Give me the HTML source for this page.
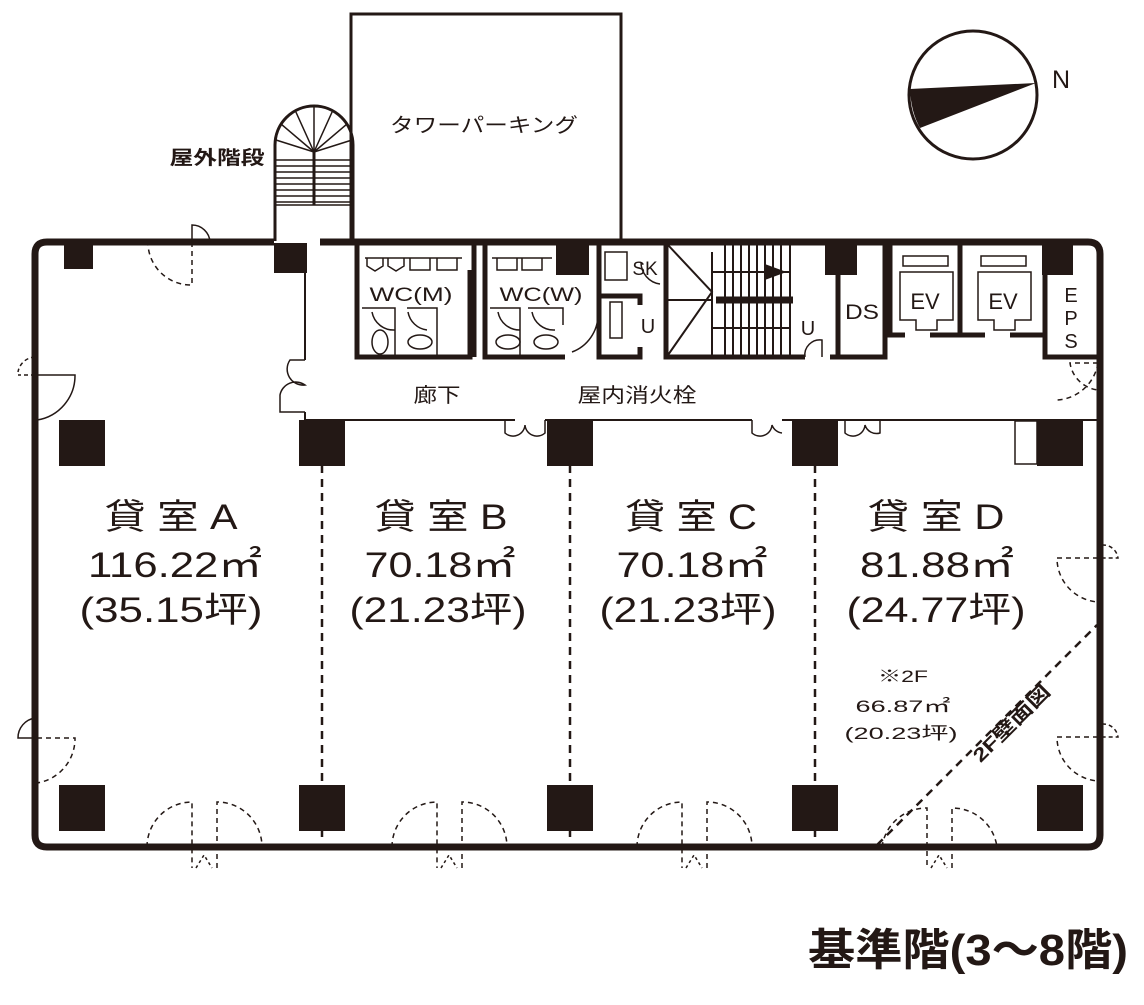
<!DOCTYPE html>
<html><head><meta charset="utf-8"><style>
html,body{margin:0;padding:0;background:#fff}
svg{display:block}
text{font-family:"Liberation Sans","Noto Sans CJK JP",sans-serif;fill:#231815}
</style></head><body>
<svg width="1144" height="1005" viewBox="0 0 1144 1005" xmlns="http://www.w3.org/2000/svg">
<g stroke="#231815" fill="none">
<circle cx="973" cy="95" r="64" stroke-width="3"/>
<path d="M1036,83 L910,89 Q911,112 920,128 Z" fill="#231815" stroke="none"/>
<rect x="351" y="14" width="270" height="228" stroke-width="3"/>
<path d="M275,241 L275,145 A39,39 0 0 1 353,145 L353,241" stroke-width="3"/>
<g stroke-width="1.5">
<line x1="314" y1="152" x2="314" y2="106"/>
<line x1="314" y1="152" x2="295" y2="110"/>
<line x1="314" y1="152" x2="333" y2="110"/>
<line x1="314" y1="152" x2="281" y2="124"/>
<line x1="314" y1="152" x2="347" y2="124"/>
<line x1="314" y1="152" x2="276" y2="140"/>
<line x1="314" y1="152" x2="352" y2="140"/>
<line x1="276" y1="160" x2="352" y2="160"/>
<line x1="276" y1="166" x2="352" y2="166"/>
<line x1="276" y1="172" x2="352" y2="172"/>
<line x1="276" y1="178" x2="352" y2="178"/>
<line x1="276" y1="184" x2="352" y2="184"/>
<line x1="276" y1="190" x2="352" y2="190"/>
<line x1="276" y1="196" x2="352" y2="196"/>
<line x1="276" y1="202" x2="352" y2="202"/>
<line x1="276" y1="205" x2="352" y2="205"/>
</g>
<line x1="314" y1="152" x2="314" y2="205" stroke-width="3"/>
<path d="M320,242 L1088,242 Q1100,242 1100,254 L1100,835 Q1100,847 1088,847 L47,847 Q35,847 35,835 L35,254 Q35,242 47,242 L274,242" stroke-width="7"/>
<path d="M192,242 L192,225 A18,18 0 0 1 210,242" stroke-width="1.5"/>
<path d="M192,242 L192,285 A43,43 0 0 1 148,245" stroke-width="1.5" stroke-dasharray="5,4"/>
<path d="M37,375 L75,375 A45,45 0 0 1 37,420" stroke-width="1.5"/>
<path d="M35,375 L18,375 M35,357 A18,18 0 0 0 18,372" stroke-width="1.5" stroke-dasharray="4,3"/>
<path d="M37,738 L75,738 A45,45 0 0 1 37,783" stroke-width="1.5" stroke-dasharray="5,4"/>
<path d="M35,718 A20,20 0 0 0 18,738 L35,738" stroke-width="1.5"/>
<path d="M1098,558 L1057,558 A44,44 0 0 0 1098,602" stroke-width="1.5" stroke-dasharray="5,4"/>
<path d="M1102,545 A15,15 0 0 1 1118,558 L1102,558" stroke-width="1.5" stroke-dasharray="4,3"/>
<path d="M1098,737 L1057,737 A44,44 0 0 0 1098,781" stroke-width="1.5" stroke-dasharray="5,4"/>
<path d="M1102,724 A15,15 0 0 1 1118,737 L1102,737" stroke-width="1.5" stroke-dasharray="4,3"/>
<path d="M1098,363 A44,44 0 0 1 1057,400 M1098,363 L1070,363 A32,32 0 0 0 1098,390" stroke-width="1.5" stroke-dasharray="5,4"/>
<g stroke-width="1.5" stroke-dasharray="5,4">
<path d="M147,847 A45,45 0 0 1 192,802 L192,868 M217,868 L217,802 A45,45 0 0 1 262,847"/>
<path d="M392,847 A45,45 0 0 1 437,802 L437,868 M462,868 L462,802 A45,45 0 0 1 507,847"/>
<path d="M637,847 A45,45 0 0 1 682,802 L682,868 M707,868 L707,802 A45,45 0 0 1 752,847"/>
<path d="M882,847 A45,45 0 0 1 927,808 L927,868 M952,868 L952,808 A45,45 0 0 1 997,847"/>
</g>
<path d="M196,868 L204,855 L212,868 M441,868 L449,855 L457,868 M686,868 L694,855 L702,868 M931,868 L939,855 L947,868" stroke-width="1.5" stroke-dasharray="3,3"/>
<path d="M305,272 L305,360 M305,412 L305,420 L515,420 M545,420 L752,420 M782,420 L1098,420" stroke-width="2"/>
<path d="M305,360 L290,360 A16,16 0 0 0 305,385 A16,16 0 0 0 280,395 L280,412 L305,412" stroke-width="1.5"/>
<path d="M505,420 L505,433 A12,12 0 0 0 525,425 A12,12 0 0 0 545,433 L545,420 M752,420 L752,433 A12,12 0 0 0 772,425 A12,12 0 0 0 782,433 M845,420 L845,433 A12,12 0 0 0 865,425 A12,12 0 0 0 880,433 L880,420" stroke-width="1.5"/>
<g stroke-width="2.5" stroke-dasharray="8,6">
<line x1="322" y1="465" x2="322" y2="843"/>
<line x1="570" y1="465" x2="570" y2="843"/>
<line x1="815" y1="465" x2="815" y2="843"/>
<line x1="877" y1="845" x2="1097" y2="625"/>
</g>
<g stroke-width="5">
<path d="M357,242 L357,357 L470,357 L470,270"/>
<path d="M474,357 L474,242 M485,242 L485,357 L565,357"/>
<path d="M599,242 L599,357 L640,357 L640,347"/>
<path d="M599,296 L640,296 L640,305"/>
<path d="M666,242 L666,357 L805,357 M830,357 L885,357 L885,242"/>
<path d="M838,242 L838,357"/>
<path d="M890,242 L890,335 L905,335 M930,335 L960,335 L960,242 M960,335 L985,335 M1010,335 L1045,335"/>
<path d="M1045,242 L1045,357 L1098,357"/>
</g>
<path d="M822,357 L822,340 A15,15 0 0 0 805,357" stroke-width="1.5"/>
<path d="M598,315 A40,40 0 0 1 572,352" stroke-width="1.5"/>
<path d="M641,262 A22,22 0 0 0 660,284" stroke-width="1.5"/>
<g stroke-width="1.5">
<path d="M367,258 L367,266 L375,271 L383,266 L383,258 M388,258 L388,266 L396,271 L404,266 L404,258 M410,258 L410,270 L430,270 L430,258 M437,258 L437,270 L457,270 L457,258 M365,258 L462,258"/>
<path d="M497,258 L497,270 L517,270 L517,258 M522,258 L522,270 L542,270 L542,258 M492,258 L552,258"/>
<path d="M362,308 L395,308 L395,355 M407,308 L437,308 L437,355"/>
<path d="M490,308 L520,308 L520,355 M528,308 L563,308 L563,325"/>
<path d="M372,312 A22,22 0 0 0 395,330 M408,312 A22,22 0 0 0 427,330 M498,312 A22,22 0 0 0 520,330 M532,312 A22,22 0 0 0 555,330"/>
<ellipse cx="380" cy="342" rx="8" ry="12"/>
<ellipse cx="420" cy="342" rx="12" ry="7"/>
<ellipse cx="508" cy="342" rx="12" ry="7"/>
<ellipse cx="546" cy="342" rx="12" ry="7"/>
<rect x="605" y="252" width="22" height="28"/>
<rect x="610" y="302" width="12" height="36"/>
<rect x="903" y="256" width="45" height="10"/>
<path d="M900,272 L953,272 L953,320 L937,320 L937,330 L916,330 L916,320 L900,320 Z"/>
<rect x="981" y="256" width="45" height="10"/>
<path d="M978,272 L1031,272 L1031,320 L1015,320 L1015,330 L994,330 L994,320 L978,320 Z"/>
</g>
<g stroke-width="2">
<path d="M668,245 L712,292 L668,355 M712,262 L712,355 M668,300 L712,300 M712,272 L790,272 M712,328 L790,328 M712,252 L712,355"/>
<line x1="725" y1="245" x2="725" y2="355"/><line x1="733" y1="245" x2="733" y2="355"/>
<line x1="741" y1="245" x2="741" y2="355"/><line x1="749" y1="245" x2="749" y2="355"/>
<line x1="757" y1="245" x2="757" y2="355"/><line x1="765" y1="245" x2="765" y2="355"/>
<line x1="773" y1="245" x2="773" y2="355"/><line x1="781" y1="245" x2="781" y2="355"/>
<line x1="790" y1="245" x2="790" y2="355"/>
</g>
<line x1="716" y1="300" x2="793" y2="300" stroke-width="7"/>
<path d="M766,265 L785,272 L766,279 Z" fill="#231815"/>
</g>
<g fill="#231815">
<rect x="64" y="243" width="29" height="26"/>
<rect x="274" y="243" width="33" height="30"/>
<rect x="556" y="243" width="33" height="32"/>
<rect x="825" y="243" width="32" height="32"/>
<rect x="1042" y="243" width="31" height="32"/>
<rect x="59" y="420" width="46" height="46"/>
<rect x="299" y="420" width="46" height="46"/>
<rect x="547" y="420" width="46" height="46"/>
<rect x="792" y="420" width="46" height="46"/>
<rect x="1037" y="420" width="46" height="46"/>
<rect x="59" y="785" width="46" height="46"/>
<rect x="299" y="785" width="46" height="46"/>
<rect x="547" y="785" width="46" height="46"/>
<rect x="792" y="785" width="46" height="46"/>
<rect x="1037" y="785" width="46" height="46"/>
</g>
<rect x="1015" y="421" width="22" height="43" fill="none" stroke="#231815" stroke-width="1.5"/>
<text x="1052" y="88" font-size="25">N</text>
<text x="484" y="132" font-size="20" text-anchor="middle" textLength="188" lengthAdjust="spacingAndGlyphs">タワーパーキング</text>
<text x="217" y="164" font-size="19" text-anchor="middle" font-weight="bold" textLength="95" lengthAdjust="spacingAndGlyphs">屋外階段</text>
<text x="411" y="301" font-size="19" text-anchor="middle" textLength="83" lengthAdjust="spacingAndGlyphs">WC(M)</text>
<text x="541" y="301" font-size="19" text-anchor="middle" textLength="83" lengthAdjust="spacingAndGlyphs">WC(W)</text>
<text x="645" y="275" font-size="19" text-anchor="middle">SK</text>
<text x="648" y="333" font-size="20" text-anchor="middle">U</text>
<text x="808" y="335" font-size="20" text-anchor="middle">U</text>
<text x="862" y="319" font-size="21" text-anchor="middle" textLength="34" lengthAdjust="spacingAndGlyphs">DS</text>
<text x="925" y="309" font-size="22" text-anchor="middle">EV</text>
<text x="1003" y="309" font-size="22" text-anchor="middle">EV</text>
<text x="1071" y="302" font-size="20" text-anchor="middle">E</text>
<text x="1071" y="325" font-size="20" text-anchor="middle">P</text>
<text x="1071" y="348" font-size="20" text-anchor="middle">S</text>
<text x="437" y="402" font-size="20" text-anchor="middle" textLength="47" lengthAdjust="spacingAndGlyphs">廊下</text>
<text x="637" y="402" font-size="20" text-anchor="middle" textLength="119" lengthAdjust="spacingAndGlyphs">屋内消火栓</text>
<g font-size="35" text-anchor="middle">
<text x="171" y="529" textLength="133" lengthAdjust="spacingAndGlyphs">貸 室 A</text>
<text x="175" y="577" textLength="174" lengthAdjust="spacingAndGlyphs">116.22㎡</text>
<text x="171" y="622" textLength="183" lengthAdjust="spacingAndGlyphs">(35.15坪)</text>
<text x="441" y="529" textLength="133" lengthAdjust="spacingAndGlyphs">貸 室 B</text>
<text x="440" y="577" textLength="151" lengthAdjust="spacingAndGlyphs">70.18㎡</text>
<text x="438" y="622" textLength="177" lengthAdjust="spacingAndGlyphs">(21.23坪)</text>
<text x="691" y="529" textLength="132" lengthAdjust="spacingAndGlyphs">貸 室 C</text>
<text x="692" y="577" textLength="151" lengthAdjust="spacingAndGlyphs">70.18㎡</text>
<text x="688" y="622" textLength="177" lengthAdjust="spacingAndGlyphs">(21.23坪)</text>
<text x="936" y="529" textLength="137" lengthAdjust="spacingAndGlyphs">貸 室 D</text>
<text x="937" y="577" textLength="154" lengthAdjust="spacingAndGlyphs">81.88㎡</text>
<text x="936" y="622" textLength="179" lengthAdjust="spacingAndGlyphs">(24.77坪)</text>
</g>
<g font-size="17" text-anchor="middle">
<text x="903" y="682" textLength="50" lengthAdjust="spacingAndGlyphs">※2F</text>
<text x="903" y="712" textLength="95" lengthAdjust="spacingAndGlyphs">66.87㎡</text>
<text x="901" y="739" textLength="113" lengthAdjust="spacingAndGlyphs">(20.23坪)</text>
</g>
<text x="0" y="0" font-size="19" font-weight="bold" text-anchor="middle" transform="translate(1016,728) rotate(-45)" textLength="100" lengthAdjust="spacingAndGlyphs">2F壁面図</text>
<text x="808" y="965" font-size="44" font-weight="bold" textLength="320" lengthAdjust="spacingAndGlyphs">基準階(3〜8階)</text>
</svg>
</body></html>
